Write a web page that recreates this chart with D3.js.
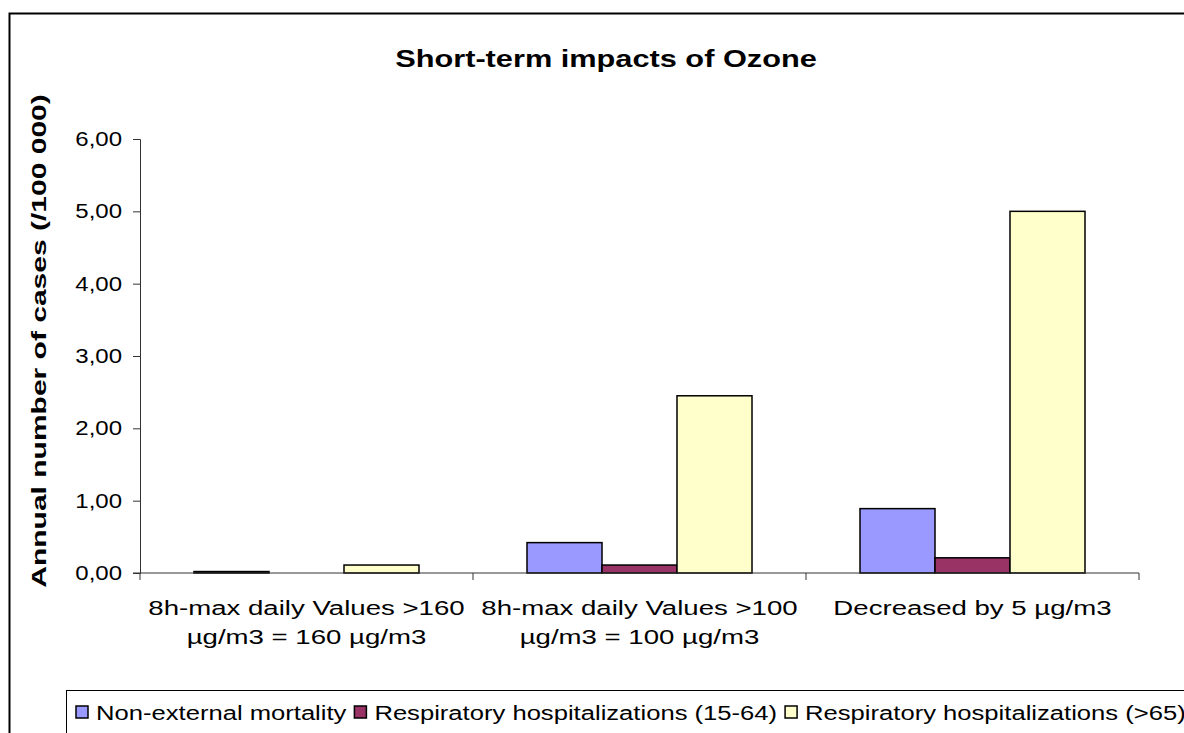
<!DOCTYPE html>
<html>
<head>
<meta charset="utf-8">
<script src="https://cdn.jsdelivr.net/npm/d3@7"></script>
<style>
  body { margin: 0; background: #fff; }
  svg { display: block; font-family: Arial, "Liberation Sans", sans-serif; }
</style>
</head>
<body>
<svg id="chart" width="1184" height="733"></svg>
<script>
// chart data
var categories = [
  ['8h-max daily Values >160', 'µg/m3 = 160 µg/m3'],
  ['8h-max daily Values >100', 'µg/m3 = 100 µg/m3'],
  ['Decreased by 5 µg/m3']
];
var seriesNames = ['Non-external mortality', 'Respiratory hospitalizations (15-64)', 'Respiratory hospitalizations (>65)'];
var nonExternal = [0.02, 0.42, 0.89];
var resp1564 = [0.0, 0.11, 0.21];
var resp65 = [0.11, 2.45, 5.00];
var yTicks = [0, 1, 2, 3, 4, 5, 6];

var colors = ['#9999ff', '#993366', '#ffffcc'];
var series = [nonExternal, resp1564, resp65];

// the original text is drawn wider than plain Arial
function stretch(sel, k){
  sel.each(function(){
    var w = this.getComputedTextLength();
    d3.select(this).attr('textLength', w * k).attr('lengthAdjust', 'spacingAndGlyphs');
  });
}

var svg = d3.select('#chart');

// outer frame (runs off the right/bottom edge)
svg.append('rect')
  .attr('x', 9.5).attr('y', 13.5)
  .attr('width', 1200).attr('height', 760)
  .attr('fill', 'none').attr('stroke', '#000').attr('stroke-width', 2);

var pLeft = 140, pRight = 1139, pTop = 139, pBottom = 573;

var x0 = d3.scaleBand().domain(d3.range(categories.length)).range([pLeft, pRight]);
var x1 = d3.scaleBand().domain(d3.range(series.length))
  .range([0, x0.bandwidth()]).paddingOuter(0.72);
var y = d3.scaleLinear().domain([0, 6]).range([pBottom, pTop]);

// bars
var groups = svg.selectAll('.grp')
  .data(categories)
  .enter().append('g')
  .attr('class', 'grp')
  .attr('transform', function(d, i){ return 'translate(' + x0(i) + ',0)'; });

groups.selectAll('rect')
  .data(function(d, i){
    return series.map(function(s, j){ return {s: j, v: s[i]}; })
      .filter(function(d){ return d.v > 0; });
  })
  .enter().append('rect')
  .attr('x', function(d){ return x1(d.s); })
  .attr('width', x1.bandwidth())
  .attr('y', function(d){ return y(d.v); })
  .attr('height', function(d){ return y(0) - y(d.v); })
  .attr('fill', function(d){ return colors[d.s]; })
  .attr('stroke', '#000')
  .attr('stroke-width', 1.5);

// y axis
var yAxis = svg.append('g')
  .attr('transform', 'translate(' + pLeft + ',0)')
  .call(d3.axisLeft(y).tickValues(yTicks).tickSize(7).tickPadding(11)
    .tickFormat(function(d){ return d.toFixed(2).replace('.', ','); }));
yAxis.select('.domain').attr('stroke', '#333');
yAxis.selectAll('line').attr('stroke', '#333');
yAxis.selectAll('text').attr('font-size', 20).attr('fill', '#000')
  .attr('font-family', 'Arial, "Liberation Sans", sans-serif');
stretch(yAxis.selectAll('text'), 1.2);

// x axis
var xAxis = svg.append('g').attr('transform', 'translate(0,' + pBottom + ')');
xAxis.append('line').attr('x1', pLeft - 7).attr('x2', pRight).attr('stroke', '#333');
xAxis.selectAll('.tk')
  .data(d3.range(categories.length + 1))
  .enter().append('line')
  .attr('x1', function(i){ return pLeft + i * x0.step(); })
  .attr('x2', function(i){ return pLeft + i * x0.step(); })
  .attr('y1', 0).attr('y2', 7).attr('stroke', '#333');

xAxis.selectAll('.lbl')
  .data(categories)
  .enter().append('text')
  .attr('text-anchor', 'middle')
  .attr('font-size', 20)
  .attr('x', function(d, i){ return x0(i) + x0.bandwidth() / 2; })
  .each(function(d){
    var t = d3.select(this);
    d.forEach(function(line, k){
      t.append('tspan')
        .attr('x', t.attr('x'))
        .attr('y', 42 + k * 29)
        .text(line);
    });
  });
stretch(xAxis.selectAll('tspan'), 1.38);

// title
var title = svg.append('text')
  .attr('x', 606).attr('y', 67)
  .attr('text-anchor', 'middle')
  .attr('font-size', 24).attr('font-weight', 'bold')
  .text('Short-term impacts of Ozone');
stretch(title, 1.28);

// y label
var yLabel = svg.append('text')
  .attr('transform', 'translate(46,' + ((pTop + pBottom) / 2 - 15) + ') rotate(-90)')
  .attr('text-anchor', 'middle')
  .attr('font-size', 20).attr('font-weight', 'bold')
  .text('Annual number of cases (/100 000)');
stretch(yLabel, 1.5);

// legend
var legend = svg.append('g');
legend.append('rect')
  .attr('x', 66.5).attr('y', 690.5)
  .attr('width', 1200).attr('height', 80)
  .attr('fill', '#fff').attr('stroke', '#000').attr('stroke-width', 1);

var lx = 76;
seriesNames.forEach(function(name, i){
  legend.append('rect')
    .attr('x', lx).attr('y', 706)
    .attr('width', 12).attr('height', 12)
    .attr('fill', colors[i]).attr('stroke', '#000').attr('stroke-width', 1.5);
  var t = legend.append('text')
    .attr('x', lx + 20).attr('y', 720)
    .attr('font-size', 20)
    .text(name);
  stretch(t, 1.28);
  lx += 20 + (+t.attr('textLength')) + 8;
});
</script>
</body>
</html>
